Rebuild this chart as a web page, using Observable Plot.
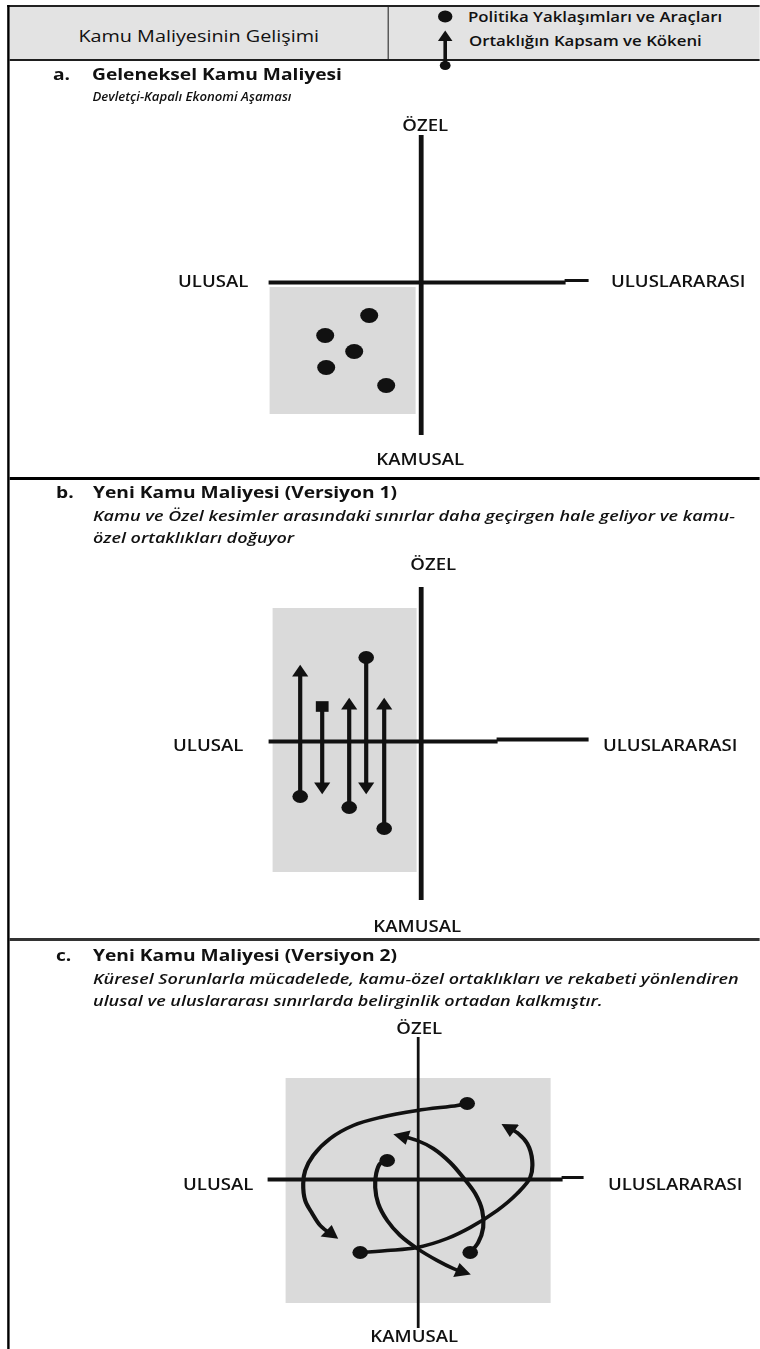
<!DOCTYPE html>
<html lang="tr">
<head>
<meta charset="utf-8">
<script src="https://cdn.jsdelivr.net/npm/d3@7"></script>
<script src="https://cdn.jsdelivr.net/npm/@observablehq/plot@0.6"></script>
<style>
  html, body { margin:0; padding:0; background:#fff; }
  body { width:760px; height:1349px; overflow:hidden; }
  #page { position:relative; width:633.333px; height:1349px; transform:scaleX(1.2); transform-origin:0 0;
          font-family:"Open Sans", sans-serif; color:#111; }
  #page > * { position:absolute; }
  .line { white-space:nowrap; }
</style>
</head>
<body>
<div id="page"></div>
<script>
// ---------------- data ----------------
const headerTitle = "Kamu Maliyesinin Gelişimi";
const legendLabels = ["Politika Yaklaşımları ve Araçları", "Ortaklığın Kapsam ve Kökeni"];
const panelLetters = ["a.", "b.", "c."];
const panelTitles = ["Geleneksel Kamu Maliyesi", "Yeni Kamu Maliyesi (Versiyon 1)", "Yeni Kamu Maliyesi (Versiyon 2)"];
const panelSubtitles = [
  ["Devletçi-Kapalı Ekonomi Aşaması"],
  ["Kamu ve Özel kesimler arasındaki sınırlar daha geçirgen hale geliyor ve kamu-", "özel ortaklıkları doğuyor"],
  ["Küresel Sorunlarla mücadelede, kamu-özel ortaklıkları ve rekabeti yönlendiren", "ulusal ve uluslararası sınırlarda belirginlik ortadan kalkmıştır."]
];
const axisNames = ["ÖZEL", "KAMUSAL", "ULUSAL", "ULUSLARARASI"];

// Panel a: policy instruments (x: ulusal − / uluslararası +, y: kamusal − / özel +)
const instrumentsA = [
  {x:-52, y:-33}, {x:-96, y:-53}, {x:-67, y:-69}, {x:-95, y:-85}, {x:-35, y:-103}
];
// Panel b: partnerships spanning public/private (start marker → arrow head)
const partnershipsB = [
  {x:-121, from:-55, to:69, start:"dot"},
  {x:-99,  from:35,  to:-45, start:"square"},
  {x:-72,  from:-66, to:36, start:"dot"},
  {x:-55,  from:84,  to:-45, start:"dot"},
  {x:-37,  from:-87, to:36, start:"dot"}
];
// Panel c: curved flows crossing all borders
const cyclesC = [
  {id:1, pts:[[49,76],[39,74],[-1,69],[-38,62],[-65,54],[-88,41],[-105,24],[-113,9],[-115,-4],[-113,-21],[-106,-34],[-98,-46],[-88,-54]]},
  {id:2, pts:[[-58,-73],[-31,-71],[-1,-68],[29,-59],[52,-48],[79,-31],[99,-14],[112,2],[114,19],[109,36],[100,46],[92,51]]},
  {id:3, pts:[[-31,19],[-38,16],[-42,6],[-43,-8],[-40,-24],[-31,-41],[-18,-56],[-1,-69],[19,-81],[35,-89],[43,-92]]},
  {id:4, pts:[[52,-73],[60,-63],[65,-48],[64,-31],[57,-14],[45,2],[32,17],[15,31],[-1,39],[-15,43]]}
];

// ---------------- layout ----------------
const S = 1.2;           // horizontal stretch of the original document
const INK = "#111";
const GRAY = "#dadada";
const FONT = "'Open Sans', sans-serif";
const page = document.getElementById("page");

function box(x, y, w, h, bg) {
  const d = document.createElement("div");
  Object.assign(d.style, {left: x / S + "px", top: y + "px", width: w / S + "px", height: h + "px", background: bg});
  page.appendChild(d);
  return d;
}
function label(text, x, baseline, fs, weight, italic, align, width) {
  const d = document.createElement("div");
  d.className = "line";
  d.textContent = text;
  Object.assign(d.style, {
    left: x / S + "px", top: (baseline - 0.888 * fs) + "px",
    fontSize: fs + "px", lineHeight: fs + "px", fontWeight: weight,
    fontStyle: italic ? "italic" : "normal"
  });
  if (align) { d.style.textAlign = align; d.style.width = width / S + "px"; }
  page.appendChild(d);
  return d;
}
function place(node, x, y, w) {
  const d = document.createElement("div");
  Object.assign(d.style, {left: x / S + "px", top: y + "px", width: w / S + "px"});
  d.appendChild(node);
  page.appendChild(d);
}

// frame + header
box(10, 7, 750, 52, "#e3e3e3");
box(7, 5, 753, 2, "#222");
box(10, 59, 750, 2, "#1e1e1e");
box(387.5, 7, 1.5, 52, "#3a3a3a");
box(10, 477, 750, 3, "#000");
box(10, 938, 750, 3, "#333");
box(7, 5, 3, 1344, "#000");

label(headerTitle, 10, 42.5, 16.5, 500, false, "center", 377.5);
label(legendLabels[0], 468, 22, 14, 600);
label(legendLabels[1], 469, 46.5, 14, 600);

const legendPlot = Plot.plot({
  width: 30 / S, height: 70, margin: 0,
  x: {domain: [-15, 15], axis: null},
  y: {domain: [0, 70], range: [0, 70], axis: null},
  style: {background: "transparent", overflow: "visible"},
  marks: [
    Plot.dot([{x: 0, y: 12}], {x: "x", y: "y", r: 6, fill: INK}),
    Plot.ruleX([{x: 0, y1: 33, y2: 61}], {x: "x", y1: "y1", y2: "y2", stroke: INK, strokeWidth: 3}),
    Plot.dot([{x: 0, y: 33}], {x: "x", y: "y", r: 4.5, symbol: "triangle", fill: INK}),
    Plot.dot([{x: 0, y: 61}], {x: "x", y: "y", r: 4.5, fill: INK})
  ]
});
place(legendPlot, 430, 4, 30);

// panel titles
const titleLayout = [
  {lx: 53, tx: 92, base: 80, subs: [102], subSize: 13, squeeze: 0.845},
  {lx: 56, tx: 93, base: 498, subs: [521, 543], subSize: 15, squeeze: 1},
  {lx: 56, tx: 93, base: 961, subs: [984, 1006], subSize: 15, squeeze: 1}
];
titleLayout.forEach((t, i) => {
  label(panelLetters[i], t.lx, t.base, 16, 700);
  label(panelTitles[i], t.tx, t.base, 16, 700);
  panelSubtitles[i].forEach((s, j) => {
    const el = label(s, t.tx, t.subs[j], t.subSize, 600, true);
    if (t.squeeze !== 1) { el.style.transform = `scaleX(${t.squeeze})`; el.style.transformOrigin = "0 0"; }
  });
});

// panels
const panels = [
  { top: 108, h: 369, ox: 421, oy: 282,
    shade: {x1: -151, x2: -5, y1: -132, y2: -5},
    hAxis: [{x1: -152, x2: 145, y: 0, w: 4}, {x1: 144, x2: 168, y: 2, w: 3}],
    vAxis: {x: 0, y1: -153, y2: 147, w: 4},
    labels: [[4, 156], [-1, -178], [-208, 0], [257, 0]] },
  { top: 548, h: 390, ox: 421, oy: 741,
    shade: {x1: -148, x2: -4, y1: -131, y2: 133},
    hAxis: [{x1: -152, x2: 77, y: 0, w: 4}, {x1: 76, x2: 168, y: 2, w: 4}],
    vAxis: {x: 0, y1: -159, y2: 154, w: 4},
    labels: [[12, 176], [-4, -186], [-213, -5], [249, -5]] },
  { top: 1012, h: 337, ox: 418, oy: 1179,
    shade: {x1: -132, x2: 133, y1: -124, y2: 101},
    hAxis: [{x1: -150, x2: 145, y: 0, w: 4}, {x1: 144, x2: 166, y: 2, w: 3}],
    vAxis: {x: 0, y1: -149, y2: 142, w: 2.3},
    labels: [[1, 150], [-4, -158], [-200, -6], [257, -6]] }
];

function panelPlot(p, extra) {
  const labelRows = axisNames.map((t, i) => ({text: t, x: p.labels[i][0], y: p.labels[i][1]}));
  return Plot.plot({
    width: 750 / S, height: p.h, margin: 0,
    x: {domain: [10 - p.ox, 760 - p.ox], axis: null},
    y: {domain: [p.oy - (p.top + p.h), p.oy - p.top], axis: null},
    style: {background: "transparent", overflow: "visible", fontFamily: FONT},
    marks: [
      Plot.rect([p.shade], {x1: "x1", x2: "x2", y1: "y1", y2: "y2", fill: GRAY}),
      ...p.hAxis.map(s => Plot.ruleY([s], {y: "y", x1: "x1", x2: "x2", stroke: INK, strokeWidth: s.w})),
      Plot.ruleX([p.vAxis], {x: "x", y1: "y1", y2: "y2", stroke: INK, strokeWidth: p.vAxis.w}),
      ...extra,
      Plot.text(labelRows, {x: "x", y: "y", text: "text", fontSize: 15.5, fontWeight: 600, fill: INK})
    ]
  });
}

// a
place(panelPlot(panels[0], [
  Plot.dot(instrumentsA, {x: "x", y: "y", r: 7.5, fill: INK})
]), 10, panels[0].top, 750);

// b
place(panelPlot(panels[1], [
  Plot.ruleX(partnershipsB, {x: "x", y1: "from", y2: "to", stroke: INK, strokeWidth: 3.5}),
  Plot.dot(partnershipsB.filter(d => d.start === "dot"), {x: "x", y: "from", r: 6.5, fill: INK}),
  Plot.dot(partnershipsB.filter(d => d.start === "square"), {x: "x", y: "from", r: 6, symbol: "square", fill: INK}),
  Plot.dot(partnershipsB, {x: "x", y: "to", r: 5, symbol: "triangle", fill: INK, rotate: d => d.to > d.from ? 0 : 180})
]), 10, panels[1].top, 750);

// c
const cRows = cyclesC.flatMap(c => c.pts.map(([x, y]) => ({id: c.id, x, y})));
const cStarts = cyclesC.map(c => ({x: c.pts[0][0], y: c.pts[0][1]}));
const cHeads = cyclesC.map(c => {
  const n = c.pts.length, [x0, y0] = c.pts[n - 2], [x1, y1] = c.pts[n - 1];
  return {x: x1, y: y1, angle: Math.atan2(x1 - x0, y1 - y0) * 180 / Math.PI};
});
place(panelPlot(panels[2], [
  Plot.line(cRows, {x: "x", y: "y", z: "id", curve: "catmull-rom", stroke: INK, strokeWidth: 3.5}),
  Plot.dot(cStarts, {x: "x", y: "y", r: 6.5, fill: INK}),
  Plot.dot(cHeads, {x: "x", y: "y", r: 5.5, symbol: "triangle", fill: INK, rotate: "angle"})
]), 10, panels[2].top, 750);
</script>
</body>
</html>
